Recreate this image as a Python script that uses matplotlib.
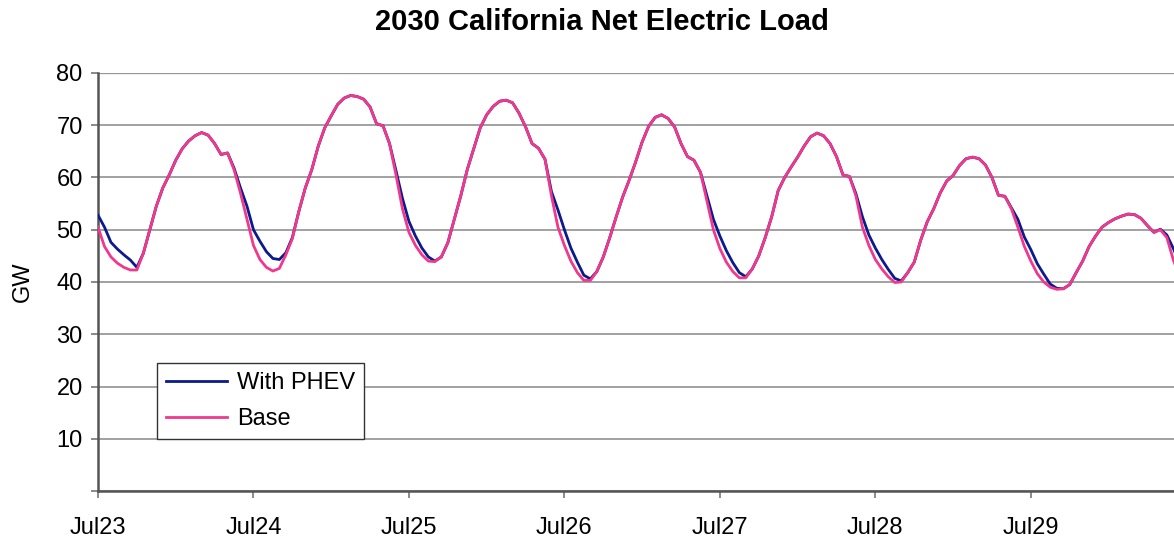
import matplotlib
matplotlib.use("Agg")
import matplotlib.pyplot as plt
import numpy as np

plt.rcParams['font.family'] = ['Liberation Sans', 'DejaVu Sans']

title = "2030 California Net Electric Load"
day_labels = ["Jul23", "Jul24", "Jul25", "Jul26", "Jul27", "Jul28", "Jul29"]
y_ticks = [0, 10, 20, 30, 40, 50, 60, 70, 80]

# Hourly net load (GW), Base case
base = [
    50.5, 46.8, 44.8, 43.6, 42.8, 42.3, 42.3, 45.5, 50.0, 54.5, 58.0, 60.5,
    63.3, 65.5, 67.0, 68.0, 68.6, 68.1, 66.5, 64.4, 64.7, 61.5, 57.0, 52.0,
    47.0, 44.3, 42.8, 42.1, 42.6, 45.2, 48.3, 53.5, 58.0, 61.5, 66.0, 69.5,
    71.8, 74.0, 75.2, 75.7, 75.5, 75.0, 73.5, 70.3, 69.9, 66.5, 60.5, 54.0,
    49.5, 47.0, 45.2, 44.0, 43.9, 44.8, 47.5, 52.0, 56.5, 61.5, 65.5, 69.5,
    72.0, 73.6, 74.6, 74.8, 74.3, 72.3, 69.7, 66.5, 65.6, 63.5, 56.5, 50.5,
    47.0, 44.0, 41.8, 40.3, 40.3, 42.0, 44.8, 48.5, 52.5, 56.3, 59.5, 63.0,
    66.8, 69.8, 71.5, 72.0, 71.3, 69.7, 66.5, 64.0, 63.3, 61.0, 55.5, 50.0,
    46.4, 43.8, 42.0, 40.8, 40.8, 42.5, 45.0, 48.5, 52.5, 57.5, 60.0, 62.0,
    63.9, 66.0, 67.8, 68.5, 68.0, 66.5, 64.0, 60.5, 60.2, 56.5, 50.5, 47.0,
    44.3, 42.5, 41.0, 39.9, 40.0, 41.8, 43.8, 48.0, 51.5, 54.0, 57.0, 59.3,
    60.4, 62.3, 63.6, 63.9, 63.6, 62.4, 60.0, 56.6, 56.4, 54.0, 50.5, 46.8,
    44.0, 41.6, 40.0, 39.0, 38.6, 38.7, 39.5, 41.8, 44.0, 46.8, 48.8, 50.5,
    51.4, 52.1, 52.6, 53.0, 52.9, 52.2, 50.8, 49.5, 50.0, 48.5, 44.2, 41.0,
]

# Hourly net load (GW), With PHEV charging
phev = [
    52.8, 50.5, 47.6, 46.3, 45.2, 44.2, 42.8, 45.5, 50.0, 54.5, 58.0, 60.5,
    63.3, 65.5, 67.0, 68.0, 68.6, 68.1, 66.5, 64.4, 64.7, 61.8, 58.0, 54.5,
    50.0, 47.8, 45.8, 44.5, 44.3, 45.6, 48.5, 53.5, 58.0, 61.5, 66.0, 69.5,
    71.8, 74.0, 75.2, 75.7, 75.5, 75.0, 73.5, 70.3, 69.9, 66.5, 61.3, 56.0,
    51.6, 48.8, 46.5, 44.8, 44.0, 44.8, 47.5, 52.0, 56.5, 61.5, 65.5, 69.5,
    72.0, 73.6, 74.6, 74.8, 74.3, 72.3, 69.7, 66.5, 65.6, 63.5, 57.3, 53.8,
    50.0, 46.5, 43.8, 41.3, 40.6, 42.0, 44.8, 48.5, 52.5, 56.3, 59.5, 63.0,
    66.8, 69.8, 71.5, 72.0, 71.3, 69.7, 66.5, 64.0, 63.3, 61.0, 56.5, 52.0,
    48.8, 46.0, 43.7, 41.8, 41.0, 42.5, 45.0, 48.5, 52.5, 57.5, 60.0, 62.0,
    63.9, 66.0, 67.8, 68.5, 68.0, 66.5, 64.0, 60.5, 60.2, 56.9, 52.5, 49.0,
    46.5, 44.3, 42.4, 40.7, 40.2, 41.8, 43.8, 48.0, 51.5, 54.0, 57.0, 59.3,
    60.4, 62.3, 63.6, 63.9, 63.6, 62.4, 60.0, 56.6, 56.4, 54.2, 52.0, 48.6,
    46.2, 43.5, 41.5, 39.6, 38.8, 38.7, 39.5, 41.8, 44.0, 46.8, 48.8, 50.5,
    51.4, 52.1, 52.6, 53.0, 52.9, 52.2, 50.8, 49.5, 50.1, 49.0, 46.4, 43.5,
]

hours = np.arange(len(base))

W, H = 1174, 540
fig = plt.figure(figsize=(W / 100, H / 100), dpi=100)
ax = fig.add_axes([98 / W, 1 - 491 / H, 1 - 98 / W, (491 - 73) / H])

ax.plot(hours, phev, color='#0b1a8c', lw=2.0, label='With PHEV', zorder=3)
ax.plot(hours, base, color='#f0388c', lw=2.0, label='Base', zorder=4)

ax.set_xlim(0, 166.1)
ax.set_ylim(0, 80)

ax.set_yticks(y_ticks)
ax.set_yticklabels(['' if v == 0 else str(v) for v in y_ticks])
ax.set_xticks(np.arange(len(day_labels)) * 24)
ax.set_xticklabels(day_labels)

ax.grid(axis='y', color='#9a9a9a', lw=1.3, zorder=0)
ax.grid(axis='x', visible=False)
for s in ['top', 'right']:
    ax.spines[s].set_visible(False)
for s in ['left', 'bottom']:
    ax.spines[s].set_color('#555555')
    ax.spines[s].set_linewidth(1.8)
ax.axhline(80, color='#7a7a7a', lw=1.6, zorder=1)

FS = 17
ax.tick_params(axis='x', direction='out', length=5, width=1.2, colors='#777777',
               labelcolor='black', labelsize=FS, pad=14)
ax.tick_params(axis='y', direction='out', length=5, width=1.2, colors='#777777',
               labelcolor='black', labelsize=FS, pad=6)

ax.set_ylabel('GW', fontsize=FS, labelpad=16)
fig.text(602 / W, 1 - 22 / H, title, ha='center', va='center',
         fontsize=21, fontweight='bold')

leg = ax.legend(loc='upper left',
                bbox_to_anchor=((157 - 98) / (W - 98), (491 - 363) / (491 - 73)),
                fontsize=FS, frameon=True, fancybox=False, framealpha=1,
                edgecolor='#333333', handlelength=2.6, handletextpad=0.4,
                borderpad=0.38, borderaxespad=0, labelspacing=0.6)
leg.get_frame().set_linewidth(1.0)

fig.savefig('out.png', dpi=100)
